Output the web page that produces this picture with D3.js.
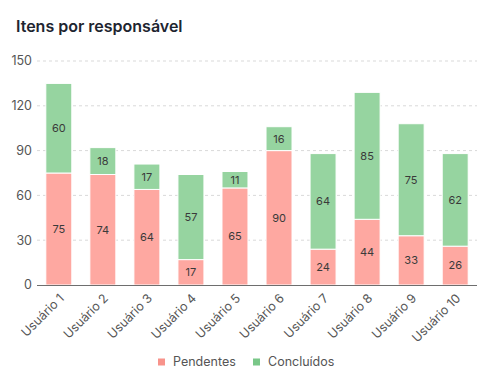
<!DOCTYPE html>
<html>
<head>
<meta charset="utf-8">
<script src="https://cdn.jsdelivr.net/npm/d3@7"></script>
<style>
  body { margin: 0; background: #fff; }
  svg { font-family: Inter, "Noto Sans", sans-serif; display: block; }
</style>
</head>
<body>
<script>
// data
var usuarios = ["Usuário 1", "Usuário 2", "Usuário 3", "Usuário 4", "Usuário 5",
                "Usuário 6", "Usuário 7", "Usuário 8", "Usuário 9", "Usuário 10"];
var pendentes = [75, 74, 64, 17, 65, 90, 24, 44, 33, 26];
var concluidos = [60, 18, 17, 57, 11, 16, 64, 85, 75, 62];
var yTicks = [0, 30, 60, 90, 120, 150];
var seriesNames = ["Pendentes", "Concluídos"];

var W = 486, H = 375;
var margin = {top: 61, right: 9, bottom: 90, left: 37},
    width = W - margin.left - margin.right,
    height = H - margin.top - margin.bottom;

var svg = d3.select("body").append("svg")
    .attr("width", W)
    .attr("height", H);

svg.append("text")
  .attr("x", 16)
  .attr("y", 32)
  .attr("font-size", 16)
  .attr("font-weight", 600)
  .attr("fill", "#1e2530")
  .text("Itens por responsável");

var g = svg.append("g")
  .attr("transform", "translate(" + margin.left + "," + margin.top + ")");

var rows = usuarios.map(function(u, i) {
  return {user: u, Pendentes: pendentes[i], "Concluídos": concluidos[i]};
});

var x = d3.scaleBand()
  .domain(usuarios)
  .range([0, width])
  .paddingInner(0.41)
  .paddingOuter(0.2);

var y = d3.scaleLinear()
  .domain([0, 150])
  .range([height, 0]);

// grid
g.append("g")
  .selectAll("line")
  .data(yTicks.filter(function(d) { return d > 0; }))
  .enter().append("line")
  .attr("x1", 0)
  .attr("x2", width)
  .attr("y1", function(d) { return y(d); })
  .attr("y2", function(d) { return y(d); })
  .attr("stroke", "#d9d9d9")
  .attr("stroke-dasharray", "3,3");

// y labels
g.append("g")
  .selectAll("text")
  .data(yTicks)
  .enter().append("text")
  .attr("x", -5)
  .attr("y", function(d) { return y(d); })
  .attr("dy", "0.35em")
  .attr("text-anchor", "end")
  .attr("font-size", 12.5)
  .attr("fill", "#555")
  .text(function(d) { return d; });

var colors = {"Pendentes": "#fea8a1", "Concluídos": "#96d4a0"};
var legendColors = {"Pendentes": "#f8938b", "Concluídos": "#79c788"};

var stack = d3.stack().keys(seriesNames)(rows);

var layers = g.selectAll("g.layer")
  .data(stack)
  .enter().append("g")
  .attr("class", "layer")
  .attr("fill", function(d) { return colors[d.key]; });

layers.selectAll("rect")
  .data(function(d) { return d; })
  .enter().append("rect")
  .attr("x", function(d) { return x(d.data.user); })
  .attr("y", function(d) { return y(d[1]); })
  .attr("width", x.bandwidth())
  .attr("height", function(d) { return y(d[0]) - y(d[1]); })
  .attr("stroke", "#fff")
  .attr("stroke-width", 1);

layers.selectAll("text")
  .data(function(d) { return d; })
  .enter().append("text")
  .attr("x", function(d) { return x(d.data.user) + x.bandwidth() / 2; })
  .attr("y", function(d) { return (y(d[0]) + y(d[1])) / 2; })
  .attr("dy", "0.35em")
  .attr("text-anchor", "middle")
  .attr("font-size", 11)
  .attr("fill", "#3a3a3a")
  .text(function(d) { return d[1] - d[0]; });

// x axis
g.append("line")
  .attr("x1", 0)
  .attr("x2", width)
  .attr("y1", height + 0.5)
  .attr("y2", height + 0.5)
  .attr("stroke", "#6e6e6e");

g.append("g")
  .selectAll("text")
  .data(usuarios)
  .enter().append("text")
  .attr("transform", function(d) {
    return "translate(" + (x(d) + x.bandwidth() / 2 + 3) + "," + (height + 11) + ")rotate(-45)";
  })
  .attr("text-anchor", "end")
  .attr("dy", "0.35em")
  .attr("font-size", 12.5)
  .attr("fill", "#555")
  .text(function(d) { return d; });

// legend
var legend = svg.append("g")
  .attr("transform", "translate(158,362)");

var lx = [0, 95];
seriesNames.forEach(function(name, i) {
  var item = legend.append("g").attr("transform", "translate(" + lx[i] + ",0)");
  item.append("rect")
    .attr("x", 0)
    .attr("y", -3.5)
    .attr("width", 7)
    .attr("height", 7)
    .attr("fill", legendColors[name]);
  item.append("text")
    .attr("x", 15)
    .attr("dy", "0.35em")
    .attr("font-size", 12.5)
    .attr("fill", "#555")
    .text(name);
});
</script>
</body>
</html>
